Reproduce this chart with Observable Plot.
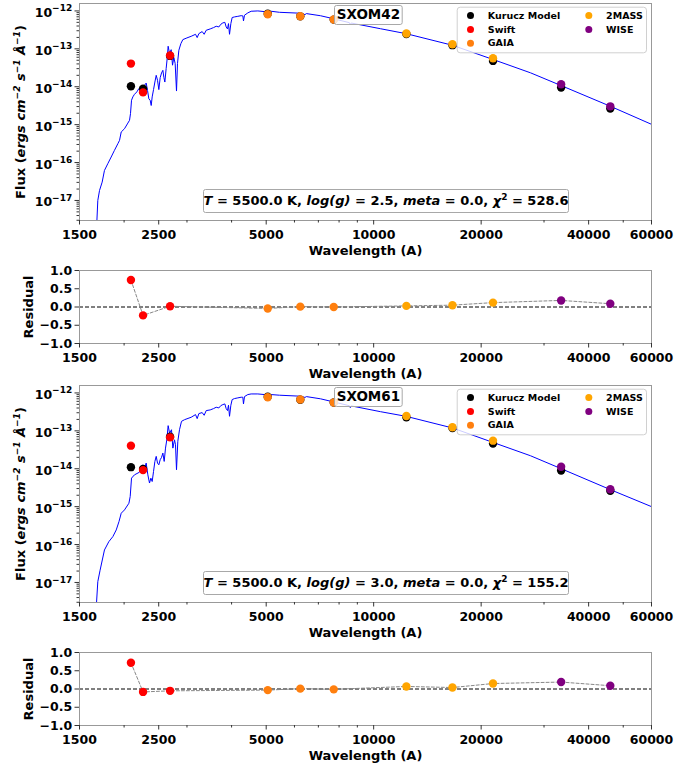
<!DOCTYPE html>
<html>
<head>
<meta charset="utf-8">
<script src="https://cdn.jsdelivr.net/npm/d3@7"></script>
<script src="https://cdn.jsdelivr.net/npm/@observablehq/plot@0.6"></script>
<style>
  html, body { margin: 0; padding: 0; background: #fff; }
  #chart { width: 675px; height: 765px; overflow: hidden; }
  #chart svg { display: block; }
</style>
</head>
<body>
<div id="chart"></div>
<script>
// ---------------- data ----------------
const instruments = ["Swift","Swift","Swift","GAIA","GAIA","GAIA","2MASS","2MASS","2MASS","WISE","WISE"];
const wavelengths = [2090, 2260, 2690, 5050, 6230, 7730, 12350, 16620, 21590, 33500, 46000];

const obsFlux42   = [4.08e-14, 7.1e-15, 6.64e-14, 8.18e-13, 7.24e-13, 5.93e-13, 2.53e-13, 1.32e-13, 5.63e-14, 1.16e-14, 3.04e-15];
const modelFlux42 = [1.03e-14, 8.9e-15, 6.5e-14, 8.4e-13, 7.2e-13, 5.9e-13, 2.45e-13, 1.25e-13, 4.8e-14, 9.5e-15, 2.65e-15];
const resid42     = [0.74, -0.23, 0.02, -0.04, 0.01, 0.0, 0.03, 0.05, 0.12, 0.18, 0.09];

const obsFlux61   = [4.06e-14, 9.2e-15, 6.73e-14, 7.7e-13, 6.68e-13, 5.57e-13, 2.46e-13, 1.24e-13, 5.5e-14, 1.13e-14, 2.88e-15];
const modelFlux61 = [1.10e-14, 9.9e-15, 7.0e-14, 7.9e-13, 6.6e-13, 5.6e-13, 2.27e-13, 1.19e-13, 4.6e-14, 9.0e-15, 2.62e-15];
const resid61     = [0.72, -0.08, -0.05, -0.03, 0.01, -0.01, 0.07, 0.04, 0.15, 0.19, 0.09];

// Kurucz model spectrum, SXOM42 (T=5500, logg=2.5)
const specWave42 = [1675,1688,1707,1736,1762,1800,1840,1879,1921,1942,1963,2005,2049,2071,2084,2098,2116,2138,2171,2199,
  2233,2257,2281,2306,2326,2346,2366,2382,2397,2418,2439,2460,2481,2502,2524,2546,2568,2585,2601,2623,
  2640,2657,2681,2709,2733,2756,2780,2804,2822,2847,2884,2921,2998,3082,3170,3204,3239,3309,3352,3396,
  3484,3560,3622,3685,3732,3781,3830,3863,3896,3921,3947,3981,4015,4076,4164,4255,4301,4319,4347,4441,
  4538,4738,4946,5163,5449,6237,6420,6480,7097,7719,8550,8600,8650,10450,12358,16630,21520,27500,33370,46060,60000];
const specFlux42 = [2.0e-18,1.0e-17,1.84e-17,3.05e-17,6.2e-17,9.3e-17,1.40e-16,2.09e-16,3.14e-16,3.85e-16,6.4e-16,7.8e-16,1.10e-15,1.30e-15,1.95e-15,4.4e-15,5.4e-15,6.3e-15,7.3e-15,8.9e-15,
  9.4e-15,7.7e-15,1.09e-14,1.25e-14,8.0e-15,4.8e-15,4.4e-15,3.2e-15,5.4e-15,8.4e-15,1.33e-14,2.0e-14,1.48e-14,8.4e-15,1.74e-14,2.31e-14,2.71e-14,1.74e-14,1.33e-14,3.0e-14,
  5.5e-14,1.17e-13,7.5e-14,9.5e-14,3.7e-14,5.9e-14,4.1e-14,7.7e-15,4.1e-14,9.2e-14,1.37e-13,1.75e-13,1.94e-13,2.14e-13,2.42e-13,1.98e-13,2.52e-13,2.85e-13,2.42e-13,3.09e-13,
  3.35e-13,3.63e-13,3.94e-13,3.78e-13,4.45e-13,4.83e-13,5.0e-13,3.78e-13,3.35e-13,4.63e-13,2.42e-13,4.63e-13,6.7e-13,6.95e-13,7.2e-13,7.5e-13,7.4e-13,5.45e-13,7.7e-13,8.87e-13,
  9.8e-13,1.0e-12,9.6e-13,9.8e-13,9.2e-13,8.7e-13,8.0e-13,8.5e-13,7.47e-13,6.22e-13,4.9e-13,4.3e-13,4.8e-13,3.39e-13,2.5e-13,1.24e-13,5.3e-14,2.33e-14,1.09e-14,3.04e-15,1.02e-15];

// Kurucz model spectrum, SXOM61 (T=5500, logg=3.0)
const specWave61 = [1670,1688,1713,1762,1812,1860,1901,1935,1963,2005,2063,2080,2098,2138,2208,2257,2281,2306,2331,2356,
  2377,2397,2418,2439,2460,2481,2502,2524,2546,2568,2590,2612,2634,2657,2681,2715,2739,2768,2786,2804,
  2828,2859,2896,2954,3082,3170,3204,3239,3309,3352,3396,3484,3560,3622,3685,3732,3781,3830,3863,3896,
  3921,3947,3981,4015,4076,4164,4255,4301,4319,4347,4441,4538,4738,4946,5163,5449,6237,6420,6480,7097,
  7719,8550,8600,8650,10450,12358,16630,21520,27500,33370,46060,60000];
const specFlux61 = [2.0e-18,1.05e-17,2.1e-17,7.2e-17,1.19e-16,1.62e-16,2.43e-16,4.04e-16,6.7e-16,8.2e-16,1.23e-15,1.85e-15,5.65e-15,6.9e-15,8.1e-15,1.27e-14,1.0e-14,1.41e-14,6.9e-15,4.2e-15,
  5.65e-15,4.6e-15,8.5e-15,1.56e-14,2.12e-14,1.41e-14,1.27e-14,1.73e-14,1.99e-14,2.59e-14,1.56e-14,3.5e-14,5.8e-14,1.37e-13,8.75e-14,1.07e-13,3.5e-14,5.8e-14,4.3e-14,9.4e-15,
  5.3e-14,1.07e-13,1.78e-13,1.97e-13,2.28e-13,2.68e-13,2.1e-13,2.85e-13,3.03e-13,2.57e-13,3.42e-13,3.56e-13,3.86e-13,4.19e-13,4.02e-13,4.63e-13,4.92e-13,5.13e-13,3.86e-13,3.42e-13,
  4.73e-13,2.42e-13,4.73e-13,6.68e-13,7.1e-13,7.4e-13,7.7e-13,7.7e-13,5.13e-13,8.0e-13,9.05e-13,9.4e-13,9.4e-13,9.05e-13,9.05e-13,8.7e-13,8.2e-13,7.6e-13,8.0e-13,7.0e-13,
  5.8e-13,4.6e-13,4.1e-13,4.55e-13,3.2e-13,2.4e-13,1.19e-13,5.0e-14,2.2e-14,1.02e-14,2.8e-15,1.0e-15];

// legend / colours
const legendLabels = ["Kurucz Model", "Swift", "GAIA", "2MASS", "WISE"];
const legendColors = ["#000000", "#ff0000", "#ff7f0e", "#ffa500", "#800080"];

// axes
const xDomain = [1500, 60000];
const xMajor = [1500, 2500, 5000, 10000, 20000, 40000, 60000];
const xMajorLabels = ["1500", "2500", "5000", "10000", "20000", "40000", "60000"];
const xMinor = [2000, 3000, 4000, 6000, 7000, 8000, 9000, 30000, 50000];
const fluxDomain = [2.96e-18, 1.57e-12];
const fluxMajor = [1e-17, 1e-16, 1e-15, 1e-14, 1e-13, 1e-12];
const fluxMajorExp = ["-17", "-16", "-15", "-14", "-13", "-12"];
const residTicks = [-1, -0.5, 0, 0.5, 1];
const residLabels = ["\u22121.0", "\u22120.5", "0.0", "0.5", "1.0"];

// ---------------- helpers ----------------
const fluxMinor = [];
for (let e = -18; e <= -13; e++) for (let m = 2; m <= 9; m++) {
  const v = m * Math.pow(10, e);
  if (v >= fluxDomain[0] && v <= fluxDomain[1]) fluxMinor.push(v);
}
const FONT = "'DejaVu Sans', 'Liberation Sans', sans-serif";
const baseStyle = {fontFamily: FONT, fontSize: "12.5px", fontWeight: "bold", background: "white", color: "black", overflow: "visible"};
const colorScale = {domain: legendLabels, range: legendColors};

function xAxes() {
  return [
    Plot.axisX({ticks: xMajor, tickFormat: () => "", tickSize: 4.5, label: null, stroke: "#333"}),
    Plot.axisX({ticks: xMinor, tickFormat: () => "", tickSize: 2.5, label: null, stroke: "#333"}),
    Plot.text(xMajor, {x: d => d, frameAnchor: "bottom", dy: 14, lineAnchor: "middle", textAnchor: "middle",
      text: (d, i) => xMajorLabels[i], fontSize: 12.5}),
    Plot.text(["Wavelength (A)"], {frameAnchor: "bottom", dy: 30, text: d => d, fontSize: 13, textAnchor: "middle", lineAnchor: "middle"})
  ];
}

function legendMarks() {
  const marks = [Plot.frame({insetLeft: 377.7, insetRight: 5, insetTop: 3.7, insetBottom: 167.7,
    fill: "white", fillOpacity: 0.8, stroke: "#d0d0d0", rx: 3})];
  legendLabels.forEach((lab, i) => {
    const col = i < 3 ? 0 : 1, row = i < 3 ? i : i - 3;
    const dx = [391, 509.3][col], dy = [12, 26, 39.7][row];
    marks.push(Plot.dot([lab], {frameAnchor: "top-left", dx, dy, r: 3.5, fill: legendColors[i], stroke: "none"}));
    marks.push(Plot.text([lab], {frameAnchor: "top-left", dx: dx + 17.3, dy, text: d => d, textAnchor: "start", lineAnchor: "middle", fontSize: 9.5}));
  });
  return marks;
}

function sedPlot({height, marginTop, marginBottom, specW, specF, obs, model, name, paramMarker}) {
  const pts = wavelengths.map((w, i) => ({w, obs: obs[i], model: model[i], inst: instruments[i]}));
  const spec = specW.map((w, i) => ({w, f: specF[i]}));
  return Plot.plot({
    width: 675, height, marginLeft: 79, marginRight: 24, marginTop, marginBottom,
    style: baseStyle,
    x: {type: "log", domain: xDomain},
    y: {type: "log", domain: fluxDomain},
    color: colorScale,
    marks: [
      Plot.line(spec, {x: "w", y: "f", stroke: "#0000ff", strokeWidth: 1, clip: true}),
      Plot.dot(pts, {x: "w", y: "model", r: 4.2, fill: "#000000", stroke: "none"}),
      Plot.dot(pts, {x: "w", y: "obs", r: 4.2, fill: "inst", stroke: "none"}),
      Plot.frame({insetLeft: 255, insetRight: 249.3, insetTop: 2, insetBottom: 196, fill: "white", fillOpacity: 0.8, stroke: "#a8a8a8", rx: 2}),
      Plot.text([name], {frameAnchor: "top-left", dx: 288.9, dy: 11.5, text: d => d, fontSize: 13.5, textAnchor: "middle", lineAnchor: "middle"}),
      Plot.frame({insetLeft: 124, insetRight: 83, insetTop: 186, insetBottom: 8, fill: "white", fillOpacity: 0.8, stroke: "#a8a8a8", rx: 2}),
      Plot.text([paramMarker], {frameAnchor: "top-left", dx: 306.5, dy: 197.5, text: d => d, fontSize: 13, textAnchor: "middle", lineAnchor: "middle"}),
      ...legendMarks(),
      Plot.frame({stroke: "#999", strokeWidth: 1}),
      ...xAxes(),
      Plot.axisY({ticks: fluxMajor, tickFormat: () => "", tickSize: 4.5, label: null, stroke: "#333"}),
      Plot.axisY({ticks: fluxMinor, tickFormat: () => "", tickSize: 2.5, label: null, stroke: "#333"}),
      Plot.text(fluxMajor, {y: d => d, frameAnchor: "left", dx: -7.3, textAnchor: "end", lineAnchor: "middle",
        text: (d, i) => "10^" + fluxMajorExp[i], fontSize: 12.5}),
      Plot.text(["@FLUX@"], {frameAnchor: "left", dx: -58.3, rotate: -90, text: d => d, fontSize: 13, textAnchor: "middle", lineAnchor: "middle"})
    ]
  });
}

function residPlot({height, marginTop, marginBottom, resid}) {
  const pts = wavelengths.map((w, i) => ({w, r: resid[i], inst: instruments[i]}));
  return Plot.plot({
    width: 675, height, marginLeft: 79, marginRight: 24, marginTop, marginBottom,
    style: baseStyle,
    x: {type: "log", domain: xDomain},
    y: {domain: [-1, 1]},
    color: colorScale,
    marks: [
      Plot.ruleY([0], {stroke: "#000", strokeDasharray: "4,2", strokeWidth: 1}),
      Plot.line(pts, {x: "w", y: "r", stroke: "#888", strokeDasharray: "3,2", strokeWidth: 1}),
      Plot.dot(pts, {x: "w", y: "r", r: 4.2, fill: "inst", stroke: "none"}),
      Plot.frame({stroke: "#999", strokeWidth: 1}),
      ...xAxes(),
      Plot.axisY({ticks: residTicks, tickFormat: () => "", tickSize: 4.5, label: null, stroke: "#333"}),
      Plot.text(residTicks, {y: d => d, frameAnchor: "left", dx: -7.3, textAnchor: "end", lineAnchor: "middle",
        text: (d, i) => residLabels[i], fontSize: 12.5}),
      Plot.text(["Residual"], {frameAnchor: "left", dx: -50.7, rotate: -90, text: d => d, fontSize: 13, textAnchor: "middle", lineAnchor: "middle"})
    ]
  });
}

function richify(svg, marker, parts, supSize, supShift, firstDy) {
  d3.select(svg).selectAll("text").filter(function() { return this.textContent === marker; }).each(function() {
    const t = d3.select(this);
    t.text(null).style("white-space", "pre");
    let raised = false;
    parts.forEach((p, i) => {
      const ts = t.append("tspan").text(p.t);
      if (p.i) ts.attr("font-style", "italic");
      let dy = (i === 0 && firstDy) ? firstDy : 0;
      if (p.sup) { ts.attr("font-size", supSize); if (!raised) { dy -= supShift; raised = true; } }
      else if (raised) { dy += supShift; raised = false; }
      if (dy) ts.attr("dy", dy);
    });
  });
}

function fixLogTicks(svg) {
  fluxMajorExp.forEach(e => {
    richify(svg, "10^" + e, [{t: "10"}, {t: e.replace("-", "\u2212"), sup: true}], 9, 5.5, 2);
  });
}

const fluxParts = [{t: "Flux ("}, {t: "ergs cm", i: 1}, {t: "\u22122", i: 1, sup: 1}, {t: " s", i: 1},
  {t: "\u22121", i: 1, sup: 1}, {t: " \u00c5", i: 1}, {t: "\u22121", i: 1, sup: 1}, {t: ")"}];
function paramParts(logg, chi) {
  return [{t: "T", i: 1}, {t: " = 5500.0 K, "}, {t: "log(g)", i: 1}, {t: " = " + logg + ", "},
    {t: "meta", i: 1}, {t: " = 0.0, "}, {t: "\u03c7", i: 1}, {t: "2", sup: 1}, {t: " = " + chi}];
}

// ---------------- build ----------------
const chart = document.getElementById("chart");
const p1 = sedPlot({height: 258, marginTop: 3, marginBottom: 38, specW: specWave42, specF: specFlux42,
  obs: obsFlux42, model: modelFlux42, name: "SXOM42", paramMarker: "@PARAM42@"});
const p2 = residPlot({height: 122, marginTop: 12, marginBottom: 37, resid: resid42});
const p3 = sedPlot({height: 260, marginTop: 5, marginBottom: 38, specW: specWave61, specF: specFlux61,
  obs: obsFlux61, model: modelFlux61, name: "SXOM61", paramMarker: "@PARAM61@"});
const p4 = residPlot({height: 125, marginTop: 12, marginBottom: 40, resid: resid61});
[p1, p2, p3, p4].forEach(p => chart.appendChild(p));

[p1, p3].forEach(svg => {
  fixLogTicks(svg);
  richify(svg, "@FLUX@", fluxParts, 9, 5);
});
richify(p1, "@PARAM42@", paramParts("2.5", "528.6"), 9, 5);
richify(p3, "@PARAM61@", paramParts("3.0", "155.2"), 9, 5);
</script>
</body>
</html>
